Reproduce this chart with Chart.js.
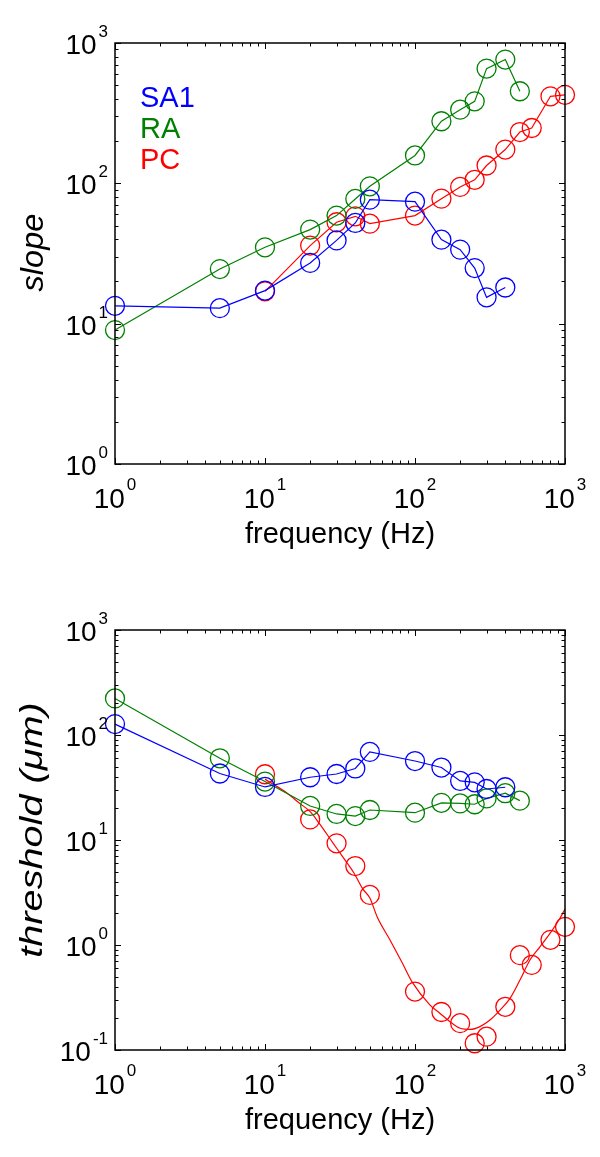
<!DOCTYPE html>
<html>
<head>
<meta charset="utf-8">
<script src="https://cdn.jsdelivr.net/npm/chart.js@4.4.0/dist/chart.umd.min.js"></script>
<style>
  html, body { margin: 0; padding: 0; background: #fff; }
  #wrap { position: relative; width: 600px; height: 1157px; background: #fff; }
  canvas { position: absolute; left: 0; }
</style>
</head>
<body>
<div id="wrap">
  <canvas id="slopeChart" width="600" height="580" style="top:0"></canvas>
  <canvas id="thresholdChart" width="600" height="577" style="top:580px"></canvas>
</div>
<script>
// ---- data ----
const sa1Freq = [1, 5, 10, 20, 30, 40, 50, 100, 150, 200, 250, 300, 400];
const raFreq = [1, 5, 10, 20, 30, 40, 50, 100, 150, 200, 250, 300, 400, 500];
const pcFreq = [10, 20, 30, 40, 50, 100, 150, 200, 250, 300, 400, 500, 600, 800, 1000];

// top panel: slope
const sa1Slope = [13.4, 12.9, 17.2, 27.1, 39.2, 52.2, 76.5, 74, 39.7, 33.7, 24.9, 15.4, 18.1];
const raSlope = [9.0, 24.5, 35, 46.8, 58.9, 77.4, 95.2, 158, 277, 335, 384, 657, 762, 453];
const pcSlope = [17, 36, 52.8, 58.2, 51.6, 58.9, 77.8, 94.3, 106, 134, 174, 232, 248, 417, 427];

// bottom panel: threshold (um)
const sa1Thr = [127, 43, 32, 39.6, 42.5, 48, 69, 56.5, 49, 36.5, 35.4, 30.6, 31.8];
const raThr = [223, 60, 36, 21.1, 17.7, 16.9, 19.3, 18.2, 22.6, 22.3, 21.9, 24.9, 27.9, 23.7];
const pcThr = [42.3, 15.7, 9.3, 5.65, 3.0, 0.36, 0.23, 0.18, 0.116, 0.134, 0.258, 0.80, 0.646, 1.12, 1.49];

// smooth red fit curve in the bottom panel
const pcFitFreq = [10, 14, 17, 20, 23, 28.5, 33, 39, 45, 50, 56, 68, 82, 96, 126, 147, 171, 200, 233, 271, 316, 369, 430, 501, 584, 681, 794, 926, 1000];
const pcFitThr = [38, 28, 22.4, 18.6, 14.4, 9.3, 6.9, 4.9, 3.4, 2.8, 1.85, 1.12, 0.68, 0.44, 0.268, 0.223, 0.186, 0.161, 0.157, 0.167, 0.193, 0.240, 0.31, 0.464, 0.72, 0.96, 1.29, 1.80, 2.2];

// axis decades (tick labels are 10^n)
const xDecades = [0, 1, 2, 3];
const slopeDecades = [0, 1, 2, 3];
const thrDecades = [-1, 0, 1, 2, 3];

const legendNames = ['SA1', 'RA', 'PC'];
const BLUE = '#0000ff', GREEN = '#008000', RED = '#ff0000';
const legendColors = [BLUE, GREEN, RED];

const FONT = '"Liberation Sans", Arial, Helvetica, sans-serif';

function pts(xs, ys) {
    return xs.map((x, i) => ({ x: x, y: ys[i] }));
}

function series(label, xs, ys, color) {
    return {
        label: label,
        data: pts(xs, ys),
        borderColor: color,
        backgroundColor: 'transparent',
        borderWidth: 1.2,
        pointRadius: 9.5,
        pointBorderWidth: 1.3,
        pointBorderColor: color,
        pointBackgroundColor: 'transparent',
        tension: 0,
        clip: false
    };
}

// draws the box, inward log ticks, 10^n labels, titles and legend
const axesPlugin = {
    id: 'matlabAxes',
    afterDraw(chart, args, opts) {
        const ctx = chart.ctx;
        const a = chart.chartArea;
        const xs = chart.scales.x, ys = chart.scales.y;
        ctx.save();

        // frame
        ctx.strokeStyle = '#000';
        ctx.lineWidth = 1.5;
        ctx.strokeRect(a.left, a.top, a.right - a.left, a.bottom - a.top);

        // ticks
        ctx.lineWidth = 1;
        function tickVals(decs) {
            const out = [];
            decs.forEach((d, i) => {
                out.push({ v: Math.pow(10, d), major: true });
                if (i < decs.length - 1) {
                    for (let m = 2; m <= 9; m++) out.push({ v: m * Math.pow(10, d), major: false });
                }
            });
            return out;
        }
        ctx.beginPath();
        tickVals(opts.xDecades).forEach(t => {
            const px = Math.round(xs.getPixelForValue(t.v)) + 0.5;
            const len = t.major ? 6 : 3.5;
            ctx.moveTo(px, a.bottom); ctx.lineTo(px, a.bottom - len);
            ctx.moveTo(px, a.top); ctx.lineTo(px, a.top + len);
        });
        tickVals(opts.yDecades).forEach(t => {
            const py = Math.round(ys.getPixelForValue(t.v)) + 0.5;
            const len = t.major ? 6 : 3.5;
            ctx.moveTo(a.left, py); ctx.lineTo(a.left + len, py);
            ctx.moveTo(a.right, py); ctx.lineTo(a.right - len, py);
        });
        ctx.stroke();

        // tick labels
        ctx.fillStyle = '#000';
        ctx.textBaseline = 'alphabetic';
        ctx.textAlign = 'left';
        const baseFont = '28px ' + FONT, expFont = '17px ' + FONT;
        const gap = 2;
        function widths(exp) {
            ctx.font = baseFont; const wb = ctx.measureText('10').width;
            ctx.font = expFont; const we = ctx.measureText(exp).width;
            return [wb, we];
        }
        opts.yDecades.forEach(d => {
            const exp = String(d);
            const [wb, we] = widths(exp);
            const py = ys.getPixelForValue(Math.pow(10, d));
            const right = a.left - 7;
            ctx.font = baseFont; ctx.fillText('10', right - we - gap - wb, py + 11);
            ctx.font = expFont; ctx.fillText(exp, right - we, py - 6);
        });
        opts.xDecades.forEach(d => {
            const exp = String(d);
            const [wb, we] = widths(exp);
            const px = xs.getPixelForValue(Math.pow(10, d));
            const left = px - (wb + gap + we) / 2;
            ctx.font = baseFont; ctx.fillText('10', left, a.bottom + 44);
            ctx.font = expFont; ctx.fillText(exp, left + wb + gap, a.bottom + 26);
        });

        // x title
        ctx.font = '29px ' + FONT;
        ctx.textAlign = 'center';
        ctx.fillText('frequency (Hz)', (a.left + a.right) / 2, a.bottom + 79);

        // y title (slightly stretched along its length, as in the figure)
        ctx.save();
        ctx.translate(opts.yTitleX, (a.top + a.bottom) / 2 + opts.yTitleShift);
        ctx.rotate(-Math.PI / 2);
        ctx.scale(opts.yTitleStretch, 1);
        ctx.font = 'italic 31px ' + FONT;
        ctx.fillText(opts.yTitle, 0, 0);
        ctx.restore();

        // legend text
        if (opts.legend) {
            ctx.font = '29px ' + FONT;
            ctx.textAlign = 'left';
            legendNames.forEach((n, i) => {
                ctx.fillStyle = legendColors[i];
                ctx.fillText(n, 140, 107 + i * 31);
            });
        }
        ctx.restore();
    }
};

function makeChart(id, datasets, yMin, pad, plugOpts) {
    return new Chart(document.getElementById(id), {
        type: 'line',
        data: { datasets: datasets },
        options: {
            responsive: false,
            animation: false,
            layout: { padding: pad },
            plugins: {
                legend: { display: false },
                tooltip: { enabled: false },
                matlabAxes: plugOpts
            },
            scales: {
                x: { type: 'logarithmic', min: 1, max: 1000, display: false },
                y: { type: 'logarithmic', min: yMin, max: 1000, display: false }
            }
        },
        plugins: [axesPlugin]
    });
}

makeChart('slopeChart', [
    series('SA1', sa1Freq, sa1Slope, BLUE),
    series('RA', raFreq, raSlope, GREEN),
    series('PC', pcFreq, pcSlope, RED)
], 1, { left: 115, right: 35, top: 43, bottom: 116 },
   { xDecades: xDecades, yDecades: slopeDecades, yTitle: 'slope', legend: true,
     yTitleX: 43, yTitleShift: -1, yTitleStretch: 1.05 });

const fit = series('PC fit', pcFitFreq, pcFitThr, RED);
fit.pointRadius = 0;
fit.cubicInterpolationMode = 'monotone';
const pcMarks = series('PC', pcFreq, pcThr, RED);
pcMarks.showLine = false;

makeChart('thresholdChart', [
    series('SA1', sa1Freq, sa1Thr, BLUE),
    series('RA', raFreq, raThr, GREEN),
    fit,
    pcMarks
], 0.1, { left: 115, right: 35, top: 50, bottom: 107 },
   { xDecades: xDecades, yDecades: thrDecades, yTitle: 'threshold (\u03bcm)', legend: false,
     yTitleX: 42, yTitleShift: -10, yTitleStretch: 1.28 });
</script>
</body>
</html>
